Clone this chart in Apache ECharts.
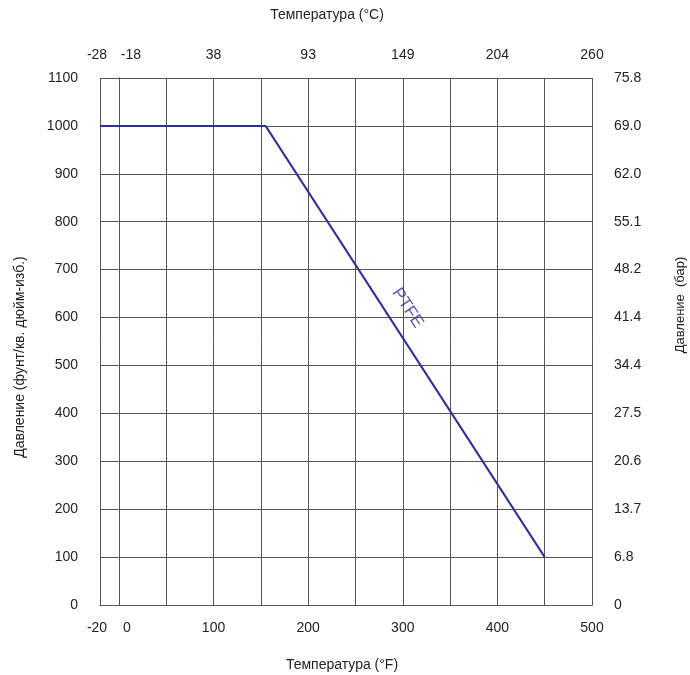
<!DOCTYPE html>
<html>
<head>
<meta charset="utf-8">
<script src="https://cdn.jsdelivr.net/npm/echarts@6/dist/echarts.min.js"></script>
<style>
  html, body { margin: 0; padding: 0; background: #fff; }
  #chart { width: 690px; height: 675px; }
</style>
</head>
<body>
<div id="chart"></div>
<script>
// Temperature (°F) ticks along the bottom and matching °C labels on top
const fTicks = [-20, 0, 100, 200, 300, 400, 500];
const cLabels = ['-28', '-18', '38', '93', '149', '204', '260'];
// Vertical grid lines every 50 °F plus the left edge
const fGrid = [-20, 0, 50, 100, 150, 200, 250, 300, 350, 400, 450, 500];
// Pressure scale: psi on the left, bar on the right
const psiTicks = [0, 100, 200, 300, 400, 500, 600, 700, 800, 900, 1000, 1100];
const barLabels = ['0', '6.8', '13.7', '20.6', '27.5', '34.4', '41.4', '48.2', '55.1', '62.0', '69.0', '75.8'];
// PTFE pressure/temperature rating (°F, psi)
const ptfeTemp = [-20, 155, 450];
const ptfePsi = [1000, 1000, 100];
const ptfeLabelAt = [305, 620];

const font = 'Liberation Sans, Arial, sans-serif';
const textColor = '#222';
const lineColor = '#2e3192';
const gridColor = '#555';

// The two leftmost ticks sit close together, so their labels are nudged apart
const edgeRich = {
  l: { padding: [0, 6, 0, 0], fontSize: 14, color: textColor, fontFamily: font },
  r: { padding: [0, 0, 0, 16], fontSize: 14, color: textColor, fontFamily: font },
  rc: { padding: [0, 0, 0, 24], fontSize: 14, color: textColor, fontFamily: font }
};

const chart = echarts.init(document.getElementById('chart'));
chart.setOption({
  animation: false,
  backgroundColor: '#fff',
  textStyle: { fontFamily: font },
  grid: { left: 100, right: 98, top: 78, bottom: 70, containLabel: false, outerBoundsMode: 'none' },
  xAxis: [
    {
      type: 'value', position: 'bottom', min: -20, max: 500,
      name: 'Температура (°F)', nameLocation: 'middle', nameGap: 53,
      nameTextStyle: { fontSize: 14, color: textColor, fontFamily: font, padding: [0, 8, 0, 0] },
      axisLine: { show: true, lineStyle: { color: gridColor, width: 1 } },
      axisTick: { show: false, customValues: fGrid },
      axisLabel: {
        customValues: fTicks, fontSize: 14, color: textColor, margin: 16, fontFamily: font,
        hideOverlap: false, rich: edgeRich,
        formatter: v => v === -20 ? '{l|' + v + '}' : v === 0 ? '{r|' + v + '}' : String(v)
      },
      splitLine: { show: true, lineStyle: { color: gridColor, width: 1 } }
    },
    {
      type: 'value', position: 'top', min: -20, max: 500,
      name: 'Температура (°C)', nameLocation: 'middle', nameGap: 56,
      nameTextStyle: { fontSize: 14, color: textColor, fontFamily: font, padding: [0, 38, 0, 0] },
      axisLine: { show: true, lineStyle: { color: gridColor, width: 1 } },
      axisTick: { show: false },
      axisLabel: {
        customValues: fTicks, fontSize: 14, color: textColor, margin: 16, fontFamily: font,
        hideOverlap: false, rich: edgeRich,
        formatter: v => {
          const s = cLabels[fTicks.indexOf(v)];
          return v === -20 ? '{l|' + s + '}' : v === 0 ? '{rc|' + s + '}' : s;
        }
      },
      splitLine: { show: false }
    }
  ],
  yAxis: [
    {
      type: 'value', position: 'left', min: 0, max: 1100, interval: 100,
      name: 'Давление (фунт/кв. дюйм-изб.)', nameLocation: 'middle', nameGap: 73,
      nameTextStyle: { fontSize: 14, color: textColor, fontFamily: font, padding: [0, 31, 0, 0] },
      axisLine: { show: true, lineStyle: { color: gridColor, width: 1 } },
      axisTick: { show: false },
      axisLabel: { fontSize: 14, color: textColor, margin: 22, fontFamily: font, formatter: v => String(v) },
      splitLine: { show: true, lineStyle: { color: gridColor, width: 1 } }
    },
    {
      type: 'value', position: 'right', min: 0, max: 1100, interval: 100,
      name: 'Давление  (бар)', nameLocation: 'middle', nameGap: 82,
      nameTextStyle: { fontSize: 13, color: textColor, fontFamily: font, padding: [0, 0, 0, 73] },
      nameRotate: 90,
      axisLine: { show: true, lineStyle: { color: gridColor, width: 1 } },
      axisTick: { show: false },
      axisLabel: {
        fontSize: 14, color: textColor, margin: 22, fontFamily: font,
        formatter: v => barLabels[psiTicks.indexOf(v)]
      },
      splitLine: { show: false }
    }
  ],
  series: [
    {
      type: 'line',
      xAxisIndex: 0, yAxisIndex: 0,
      data: ptfeTemp.map((t, i) => [t, ptfePsi[i]]),
      symbol: 'none',
      lineStyle: { color: lineColor, width: 2 },
      z: 5
    },
    {
      type: 'scatter',
      xAxisIndex: 0, yAxisIndex: 0,
      data: [ptfeLabelAt],
      symbolSize: 0,
      label: {
        show: true, position: 'inside', formatter: 'PTFE',
        rotate: -57, fontSize: 17, color: lineColor, fontFamily: font
      },
      silent: true,
      z: 6
    }
  ]
});
</script>
</body>
</html>
